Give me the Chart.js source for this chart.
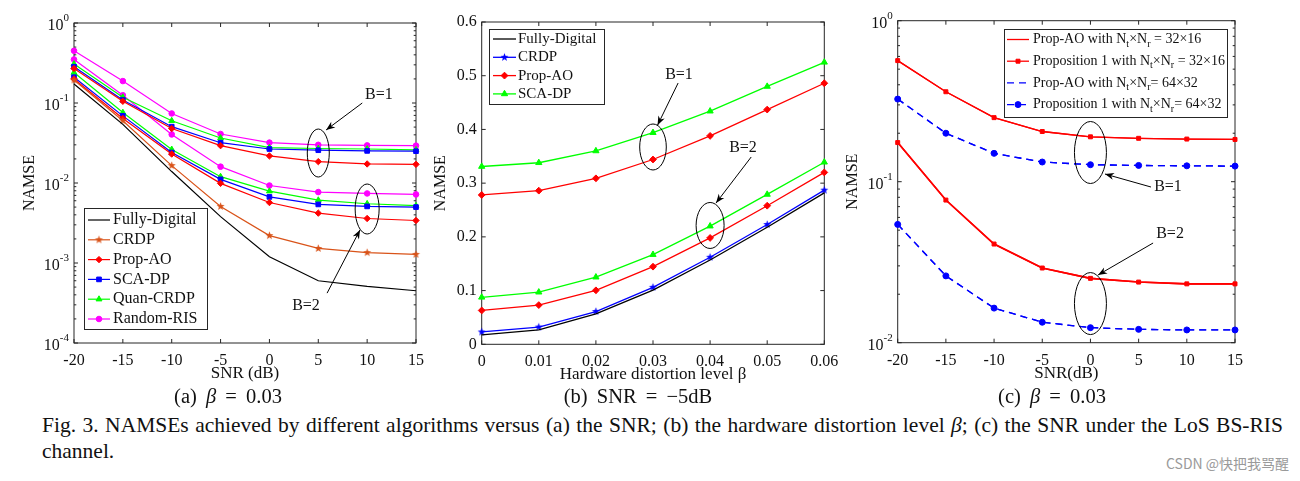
<!DOCTYPE html>
<html><head><meta charset="utf-8">
<script src="https://cdn.jsdelivr.net/npm/chart.js@4.4.0/dist/chart.umd.min.js"></script>
<style>
html,body{margin:0;padding:0;background:#fff;width:1300px;height:481px;overflow:hidden;}
body{position:relative;font-family:"Liberation Serif","Times New Roman",serif;color:#111;}
canvas{position:absolute;top:0;}
#ca{left:0}#cb{left:430px}#cc{left:840px}
.cap{position:absolute;top:384px;font-size:20.5px;line-height:24px;word-spacing:4px;white-space:nowrap;transform:translateX(-50%);}
.fig{position:absolute;left:42px;width:1241px;font-size:21.5px;line-height:26px;white-space:nowrap;}
#fig1{top:412px;text-align:justify;text-align-last:justify;}
#fig2{top:438px;text-align:left;}
#wm{position:absolute;left:1166px;top:453px;font-family:"Noto Sans CJK SC","Noto Sans",sans-serif;font-size:14px;line-height:20px;color:#9a9a9a;}
</style></head>
<body>
<canvas id="ca" width="440" height="385"></canvas>
<canvas id="cb" width="420" height="385"></canvas>
<canvas id="cc" width="460" height="385"></canvas>
<div class="cap" style="left:228px">(a) <i>β</i> = 0.03</div>
<div class="cap" style="left:638px">(b) SNR = −5dB</div>
<div class="cap" style="left:1052px">(c) <i>β</i> = 0.03</div>
<div class="fig" id="fig1">Fig. 3. NAMSEs achieved by different algorithms versus (a) the SNR; (b) the hardware distortion level <i>β</i>; (c) the SNR under the LoS BS-RIS</div>
<div class="fig" id="fig2">channel.</div>
<div id="wm">CSDN @快把我骂醒</div>
<script>
// ---------- data: panel (a) NAMSE vs SNR, beta = 0.03 ----------
const snrA = [-20, -15, -10, -5, 0, 5, 10, 15];
const fullyDigitalA = [0.173, 0.054, 0.0139, 0.0038, 0.0012, 0.0006, 0.00051, 0.00045];
const crdpA = [0.194, 0.060, 0.0165, 0.0051, 0.0022, 0.00152, 0.00135, 0.00128];
const propAO_B1_A = [0.27, 0.105, 0.048, 0.0293, 0.0218, 0.0185, 0.0173, 0.0171];
const scaDP_B1_A = [0.284, 0.109, 0.0506, 0.0319, 0.0266, 0.0257, 0.0252, 0.025];
const quan_B1_A = [0.307, 0.118, 0.060, 0.0365, 0.0277, 0.027, 0.0266, 0.026];
const random_B1_A = [0.45, 0.188, 0.074, 0.041, 0.032, 0.030, 0.0295, 0.0293];
const propAO_B2_A = [0.20, 0.064, 0.023, 0.0099, 0.0057, 0.0042, 0.0036, 0.0034];
const scaDP_B2_A = [0.21, 0.069, 0.024, 0.0111, 0.0067, 0.0054, 0.0051, 0.0050];
const quan_B2_A = [0.24, 0.076, 0.0263, 0.012, 0.0079, 0.0061, 0.0055, 0.0052];
const random_B2_A = [0.35, 0.125, 0.0405, 0.016, 0.0093, 0.0077, 0.0074, 0.0072];

// ---------- data: panel (b) NAMSE vs beta, SNR = -5 dB ----------
const betaB = [0, 0.01, 0.02, 0.03, 0.04, 0.05, 0.06];
const fullyDigitalB = [0.0174, 0.027, 0.0565, 0.101, 0.157, 0.218, 0.282];
const crdpB = [0.023, 0.032, 0.061, 0.106, 0.162, 0.223, 0.287];
const propAO_B1_B = [0.278, 0.286, 0.309, 0.344, 0.388, 0.437, 0.486];
const scaDP_B1_B = [0.331, 0.338, 0.36, 0.394, 0.434, 0.48, 0.525];
const propAO_B2_B = [0.063, 0.073, 0.1005, 0.1445, 0.198, 0.258, 0.32];
const scaDP_B2_B = [0.0875, 0.097, 0.125, 0.167, 0.22, 0.279, 0.339];

// ---------- data: panel (c) LoS BS-RIS channel ----------
const snrC = [-20, -15, -10, -5, 0, 5, 10, 15];
const propAO32_B1 = [0.565, 0.362, 0.25, 0.205, 0.19, 0.186, 0.184, 0.183];
const prop1_32_B1 = [0.565, 0.362, 0.25, 0.205, 0.19, 0.186, 0.184, 0.183];
const propAO32_B2 = [0.175, 0.0769, 0.041, 0.0291, 0.0251, 0.0238, 0.0232, 0.0232];
const prop1_32_B2 = [0.175, 0.0769, 0.041, 0.0291, 0.0251, 0.0238, 0.0232, 0.0232];
const propAO64_B1 = [0.326, 0.2, 0.15, 0.1325, 0.1275, 0.1262, 0.1255, 0.125];
const prop1_64_B1 = [0.326, 0.2, 0.15, 0.1325, 0.1275, 0.1262, 0.1255, 0.125];
const propAO64_B2 = [0.0543, 0.026, 0.0164, 0.0134, 0.0124, 0.0121, 0.012, 0.012];
const prop1_64_B2 = [0.0543, 0.026, 0.0164, 0.0134, 0.0124, 0.0121, 0.012, 0.012];

// ---------- tick labels ----------
const xTicksSNR = [-20, -15, -10, -5, 0, 5, 10, 15];
const xTicksBeta = [0, 0.01, 0.02, 0.03, 0.04, 0.05, 0.06];
const yDecadesA = [-4, -3, -2, -1, 0];
const yDecadesC = [-2, -1, 0];
const yTicksB = [0, 0.1, 0.2, 0.3, 0.4, 0.5, 0.6];

// ---------- styling helpers ----------
const SERIF = '"Liberation Serif", "Times New Roman", serif';
const AX = '#262626';

function starImg(color, r) {
  const s = Math.ceil(r * 2 + 2);
  const c = document.createElement('canvas'); c.width = s; c.height = s;
  const g = c.getContext('2d'); g.fillStyle = color; g.beginPath();
  for (let i = 0; i < 10; i++) {
    const a = -Math.PI / 2 + i * Math.PI / 5, rr = (i % 2) ? r * 0.42 : r;
    g.lineTo(s / 2 + rr * Math.cos(a), s / 2 + rr * Math.sin(a));
  }
  g.closePath(); g.fill(); return c;
}
function xy(xs, ys) { return xs.map((x, i) => ({x: x, y: ys[i]})); }
function ds(xs, ys, color, o) {
  return Object.assign({data: xy(xs, ys), borderColor: color, backgroundColor: color, borderWidth: 1.2,
    pointRadius: 0, pointHoverRadius: 0, pointBorderWidth: 1, pointStyle: 'circle', clip: false, tension: 0}, o || {});
}
const line = (ctx, x1, y1, x2, y2) => { ctx.beginPath(); ctx.moveTo(x1, y1); ctx.lineTo(x2, y2); ctx.stroke(); };

const framePlugin = {
  id: 'mframe',
  beforeDatasetsDraw(chart, args, o) {
    const ctx = chart.ctx, a = chart.chartArea, xs = chart.scales.x, ys = chart.scales.y;
    ctx.save(); ctx.strokeStyle = AX; ctx.lineWidth = 1;
    const L = 4, Lm = 2.3;
    o.xTicks.forEach(v => { const p = xs.getPixelForValue(v); line(ctx, p, a.bottom, p, a.bottom - L); line(ctx, p, a.top, p, a.top + L); });
    if (o.decades) {
      const dd = o.decades;
      dd.forEach((e, i) => {
        const p = ys.getPixelForValue(Math.pow(10, e));
        line(ctx, a.left, p, a.left + L, p); line(ctx, a.right, p, a.right - L, p);
        if (i < dd.length - 1) for (let k = 2; k < 10; k++) {
          const q = ys.getPixelForValue(k * Math.pow(10, e));
          line(ctx, a.left, q, a.left + Lm, q); line(ctx, a.right, q, a.right - Lm, q);
        }
        ctx.fillStyle = '#111'; ctx.textAlign = 'right'; ctx.textBaseline = 'middle';
        const ex = String(e);
        ctx.font = '11px ' + SERIF;
        const ew = ctx.measureText(ex).width;
        const right = a.left - 5;
        ctx.fillText(ex, right, p - 5);
        ctx.font = '16px ' + SERIF;
        ctx.fillText('10', right - ew, p + 3);
      });
    } else {
      o.yTicks.forEach(v => { const p = ys.getPixelForValue(v); line(ctx, a.left, p, a.left + L, p); line(ctx, a.right, p, a.right - L, p); });
    }
    ctx.strokeRect(a.left, a.top, a.right - a.left, a.bottom - a.top);
    ctx.restore();
  }
};

function drawRich(ctx, s, x, y, size) {
  ctx.textBaseline = 'middle'; ctx.textAlign = 'left'; ctx.fillStyle = '#111';
  let i = 0, cx = x;
  while (i < s.length) {
    if (s[i] === '_') {
      ctx.font = (size * 0.72) + 'px ' + SERIF;
      ctx.fillText(s[i + 1], cx, y + size * 0.32);
      cx += ctx.measureText(s[i + 1]).width; i += 2;
    } else {
      let j = i; while (j < s.length && s[j] !== '_') j++;
      const seg = s.slice(i, j);
      ctx.font = size + 'px ' + SERIF;
      ctx.fillText(seg, cx, y);
      cx += ctx.measureText(seg).width; i = j;
    }
  }
}

const legendPlugin = {
  id: 'mlegend',
  afterDatasetsDraw(chart, args, o) {
    const ctx = chart.ctx, b = o.box;
    ctx.save();
    ctx.fillStyle = '#fff'; ctx.fillRect(b.x, b.y, b.w, b.h);
    ctx.strokeStyle = AX; ctx.lineWidth = 1; ctx.strokeRect(b.x + 0.5, b.y + 0.5, b.w, b.h);
    chart.data.datasets.filter(d => d.legendLabel).forEach((d, i) => {
      const cy = b.y + o.first + i * o.rowH;
      ctx.strokeStyle = d.borderColor; ctx.fillStyle = d.backgroundColor; ctx.lineWidth = d.borderWidth;
      ctx.setLineDash(d.borderDash || []);
      line(ctx, o.sx0, cy, o.sx1, cy);
      ctx.setLineDash([]);
      if (d.pointRadius > 0) {
        ctx.lineWidth = 1;
        Chart.helpers.drawPoint(ctx, {pointStyle: d.pointStyle, radius: d.pointRadius, borderWidth: 1, rotation: 0}, (o.sx0 + o.sx1) / 2, cy);
      }
      drawRich(ctx, d.legendLabel, o.tx, cy, o.font);
    });
    ctx.restore();
  }
};

const annotPlugin = {
  id: 'mannot',
  afterDatasetsDraw(chart, args, o) {
    const ctx = chart.ctx, xs = chart.scales.x, ys = chart.scales.y;
    const P = (x, y) => [xs.getPixelForValue(x), ys.getPixelForValue(y)];
    ctx.save(); ctx.strokeStyle = '#000'; ctx.fillStyle = '#000'; ctx.lineWidth = 1;
    o.ellipses.forEach(e => { const c = P(e.x, e.y); ctx.beginPath(); ctx.ellipse(c[0], c[1], e.rx, e.ry, 0, 0, 2 * Math.PI); ctx.stroke(); });
    o.arrows.forEach(r => {
      const p1 = P(r.x1, r.y1), p2 = P(r.x2, r.y2);
      line(ctx, p1[0], p1[1], p2[0], p2[1]);
      const ang = Math.atan2(p2[1] - p1[1], p2[0] - p1[0]), hl = 9, hw = 3.5;
      const bx = p2[0] - hl * Math.cos(ang), by = p2[1] - hl * Math.sin(ang);
      ctx.beginPath(); ctx.moveTo(p2[0], p2[1]);
      ctx.lineTo(bx + hw * Math.sin(ang), by - hw * Math.cos(ang));
      ctx.lineTo(p2[0] - hl * 0.7 * Math.cos(ang), p2[1] - hl * 0.7 * Math.sin(ang));
      ctx.lineTo(bx - hw * Math.sin(ang), by + hw * Math.cos(ang));
      ctx.closePath(); ctx.fill();
    });
    ctx.font = '16px ' + SERIF; ctx.textAlign = 'center'; ctx.textBaseline = 'middle'; ctx.fillStyle = '#111';
    o.texts.forEach(t => { const c = P(t.x, t.y); ctx.fillText(t.text, c[0], c[1]); });
    ctx.restore();
  }
};

function makeChart(id, cfg) {
  const yLog = cfg.yType === 'logarithmic';
  return new Chart(document.getElementById(id), {
    type: 'line',
    data: {datasets: cfg.datasets},
    plugins: [framePlugin, legendPlugin, annotPlugin],
    options: {
      responsive: false, animation: false, devicePixelRatio: 1,
      layout: {padding: {left: 0, top: cfg.pad.top, right: cfg.pad.right, bottom: 0}},
      plugins: {
        legend: {display: false}, tooltip: {enabled: false},
        mframe: cfg.frame, mlegend: cfg.legend, mannot: cfg.annot
      },
      scales: {
        x: {
          type: 'linear', min: cfg.xMin, max: cfg.xMax,
          afterBuildTicks: s => { s.ticks = cfg.xTicks.map(v => ({value: v})); },
          afterFit: s => { s.height = cfg.xH; },
          grid: {display: false, drawTicks: false}, border: {display: false},
          ticks: {padding: 8, color: '#111', font: {family: SERIF, size: 16}, maxRotation: 0, autoSkip: false,
                  callback: v => String(+(+v).toFixed(2))},
          title: {display: true, text: cfg.xTitle, color: '#111', font: {family: SERIF, size: 17}, padding: {top: 0, bottom: cfg.xTitlePad}}
        },
        y: {
          type: cfg.yType, min: cfg.yMin, max: cfg.yMax,
          afterBuildTicks: s => { s.ticks = (yLog ? cfg.frame.decades.map(e => Math.pow(10, e)) : cfg.frame.yTicks).map(v => ({value: v})); },
          afterFit: s => { s.width = cfg.yW; },
          grid: {display: false, drawTicks: false}, border: {display: false},
          ticks: {display: !yLog, padding: 5, color: '#111', font: {family: SERIF, size: 16}, autoSkip: false,
                  callback: v => String(+(+v).toFixed(2))},
          title: {display: true, text: 'NAMSE', color: '#111', font: {family: SERIF, size: 16}, padding: {top: cfg.yTitlePad, bottom: 0}}
        }
      }
    }
  });
}

// ---------- panel (a) ----------
const sA = starImg('#D95319', 4.2);
makeChart('ca', {
  yType: 'logarithmic', yMin: 1e-4, yMax: 1, xMin: -20, xMax: 15, xTicks: xTicksSNR,
  pad: {top: 23, right: 24}, xH: 42, yW: 74, xTitle: 'SNR (dB)', xTitlePad: 1.5, yTitlePad: 20.4,
  frame: {xTicks: xTicksSNR, decades: yDecadesA},
  datasets: [
    ds(snrA, fullyDigitalA, '#000000', {legendLabel: 'Fully-Digital'}),
    ds(snrA, crdpA, '#D95319', {pointRadius: 4, pointStyle: sA, legendLabel: 'CRDP'}),
    ds(snrA, propAO_B1_A, '#FF0000', {pointRadius: 3.2, pointStyle: 'rectRot', legendLabel: 'Prop-AO'}),
    ds(snrA, scaDP_B1_A, '#0000FF', {pointRadius: 3.3, pointStyle: 'rect', legendLabel: 'SCA-DP'}),
    ds(snrA, quan_B1_A, '#00FF00', {pointRadius: 3.4, pointStyle: 'triangle', legendLabel: 'Quan-CRDP'}),
    ds(snrA, random_B1_A, '#FF00FF', {pointRadius: 2.8, pointStyle: 'circle', legendLabel: 'Random-RIS'}),
    ds(snrA, propAO_B2_A, '#FF0000', {pointRadius: 3.2, pointStyle: 'rectRot'}),
    ds(snrA, scaDP_B2_A, '#0000FF', {pointRadius: 3.3, pointStyle: 'rect'}),
    ds(snrA, quan_B2_A, '#00FF00', {pointRadius: 3.4, pointStyle: 'triangle'}),
    ds(snrA, random_B2_A, '#FF00FF', {pointRadius: 2.8, pointStyle: 'circle'})
  ],
  legend: {box: {x: 84, y: 208, w: 123, h: 121}, first: 12, rowH: 19.8, sx0: 88, sx1: 110, tx: 113, font: 16},
  annot: {
    ellipses: [{x: 5, y: 0.0237, rx: 11, ry: 24}, {x: 10, y: 0.00473, rx: 12, ry: 25}],
    arrows: [{x1: 9.5, y1: 0.1, x2: 5.8, y2: 0.046}, {x1: 5.9, y1: 0.00042, x2: 9.27, y2: 0.00259}],
    texts: [{x: 11.2, y: 0.126, text: 'B=1'}, {x: 3.74, y: 0.00029, text: 'B=2'}]
  }
});

// ---------- panel (b) ----------
const sB = starImg('#0000FF', 4.2);
makeChart('cb', {
  yType: 'linear', yMin: 0, yMax: 0.6, xMin: 0, xMax: 0.06, xTicks: xTicksBeta,
  pad: {top: 22, right: 25.7}, xH: 40.7, yW: 51.7, xTitle: 'Hardware distortion level β', xTitlePad: 0, yTitlePad: 1.4,
  frame: {xTicks: xTicksBeta, yTicks: yTicksB},
  datasets: [
    ds(betaB, fullyDigitalB, '#000000', {borderWidth: 1.3, legendLabel: 'Fully-Digital'}),
    ds(betaB, crdpB, '#0000FF', {borderWidth: 1.3, pointRadius: 4, pointStyle: sB, legendLabel: 'CRDP'}),
    ds(betaB, propAO_B1_B, '#FF0000', {borderWidth: 1.3, pointRadius: 3.4, pointStyle: 'rectRot', legendLabel: 'Prop-AO'}),
    ds(betaB, scaDP_B1_B, '#00FF00', {borderWidth: 1.3, pointRadius: 3.6, pointStyle: 'triangle', legendLabel: 'SCA-DP'}),
    ds(betaB, propAO_B2_B, '#FF0000', {borderWidth: 1.3, pointRadius: 3.4, pointStyle: 'rectRot'}),
    ds(betaB, scaDP_B2_B, '#00FF00', {borderWidth: 1.3, pointRadius: 3.6, pointStyle: 'triangle'})
  ],
  legend: {box: {x: 59, y: 29, w: 115, h: 75}, first: 10, rowH: 18.3, sx0: 63, sx1: 86, tx: 88, font: 15},
  annot: {
    ellipses: [{x: 0.03, y: 0.3673, rx: 13.3, ry: 23}, {x: 0.04, y: 0.2212, rx: 14, ry: 23}],
    arrows: [{x1: 0.0344, y1: 0.4864, x2: 0.0308, y2: 0.408}, {x1: 0.0472, y1: 0.3487, x2: 0.04104, y2: 0.263}],
    texts: [{x: 0.03455, y: 0.5013, text: 'B=1'}, {x: 0.04576, y: 0.3654, text: 'B=2'}]
  }
});

// ---------- panel (c) ----------
makeChart('cc', {
  yType: 'logarithmic', yMin: 0.01, yMax: 1, xMin: -20, xMax: 15, xTicks: xTicksSNR,
  pad: {top: 20.7, right: 65}, xH: 42.3, yW: 57.7, xTitle: 'SNR(dB)', xTitlePad: 1.5, yTitlePad: 3.1,
  frame: {xTicks: xTicksSNR, decades: yDecadesC},
  datasets: [
    ds(snrC, propAO32_B1, '#FF0000', {borderWidth: 1.3, legendLabel: 'Prop-AO with N_t×N_r = 32×16'}),
    ds(snrC, prop1_32_B1, '#FF0000', {borderWidth: 1.3, pointRadius: 2.8, pointStyle: 'rect', legendLabel: 'Proposition 1 with N_t×N_r = 32×16'}),
    ds(snrC, propAO64_B1, '#0000FF', {borderWidth: 1.3, borderDash: [7, 5], legendLabel: 'Prop-AO with N_t×N_r= 64×32'}),
    ds(snrC, prop1_64_B1, '#0000FF', {borderWidth: 1.3, borderDash: [7, 5], pointRadius: 3, pointStyle: 'circle', legendLabel: 'Proposition 1 with N_t×N_r= 64×32'}),
    ds(snrC, propAO32_B2, '#FF0000', {borderWidth: 1.6}),
    ds(snrC, prop1_32_B2, '#FF0000', {borderWidth: 1.6, pointRadius: 2.8, pointStyle: 'rect'}),
    ds(snrC, propAO64_B2, '#0000FF', {borderWidth: 1.3, borderDash: [7, 5]}),
    ds(snrC, prop1_64_B2, '#0000FF', {borderWidth: 1.3, borderDash: [7, 5], pointRadius: 3, pointStyle: 'circle'})
  ],
  legend: {box: {x: 164, y: 29, w: 223, h: 88}, first: 10.5, rowH: 21.7, sx0: 167, sx1: 189, tx: 193, font: 14},
  annot: {
    ellipses: [{x: 0, y: 0.1518, rx: 16, ry: 31}, {x: 0, y: 0.0175, rx: 16, ry: 31}],
    arrows: [{x1: 6.28, y1: 0.0927, x2: 1.51, y2: 0.1116}, {x1: 6.5, y1: 0.0416, x2: 0.79, y2: 0.02634}],
    texts: [{x: 8.05, y: 0.0927, text: 'B=1'}, {x: 8.26, y: 0.0473, text: 'B=2'}]
  }
});
</script>
</body></html>
